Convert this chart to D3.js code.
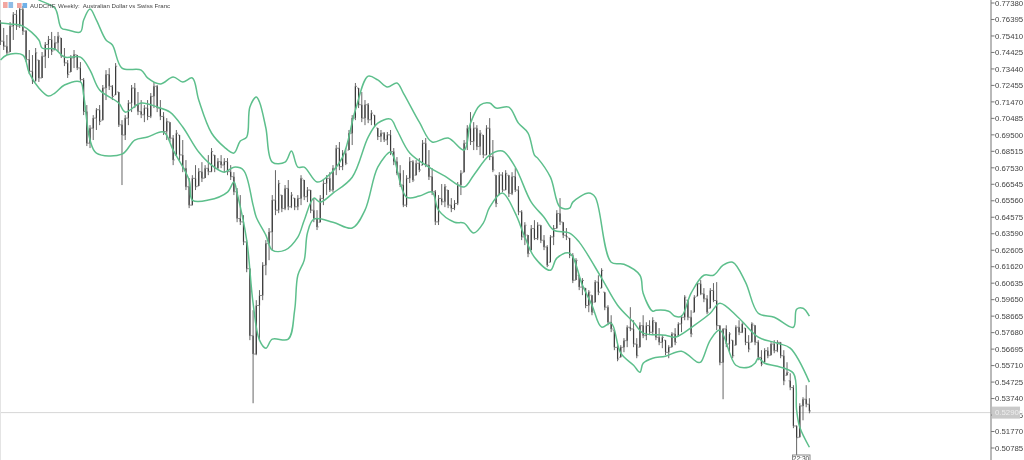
<!DOCTYPE html>
<html><head><meta charset="utf-8">
<script src="https://cdn.jsdelivr.net/npm/d3@7/dist/d3.min.js"></script>
<style>html,body{margin:0;padding:0;background:#fff;overflow:hidden}svg{display:block;filter:blur(0.4px)}text{font-family:"Liberation Sans",sans-serif}</style>
</head><body><div id="c"></div>
<script>
const symbolTitle = "AUDCHF, Weekly:  Australian Dollar vs Swiss Franc";
const priceTicks = ["0.77380","0.76395","0.75410","0.74425","0.73440","0.72455","0.71470","0.70485","0.69500","0.68515","0.67530","0.66545","0.65560","0.64575","0.63590","0.62605","0.61620","0.60635","0.59650","0.58665","0.57680","0.56695","0.55710","0.54725","0.53740","0.52755","0.51770","0.50785"];
const currentPrice = 0.52900, currentLabel = "0.52900", timeLabel = "22:30";
const barHigh = [.7636,.7589,.7547,.7624,.7684,.7696,.7726,.7720,.7577,.7457,
.7427,.7469,.7397,.7445,.7505,.7541,.7565,.7541,.7565,.7529,
.7469,.7397,.7427,.7457,.7427,.7385,.7290,.7128,.7008,.7068,
.7110,.7128,.7248,.7337,.7349,.7248,.7379,.7206,.7038,.7068,
.7158,.7248,.7260,.7206,.7158,.7128,.7158,.7200,.7266,.7248,
.7158,.7086,.7050,.7026,.6949,.6979,.6949,.6919,.6799,.6692,
.6709,.6769,.6751,.6787,.6769,.6829,.6871,.6829,.6811,.6829,
.6811,.6811,.6769,.6727,.6632,.6590,.6470,.6321,.6153,.5902,
.5962,.6022,.6189,.6321,.6393,.6590,.6739,.6680,.6590,.6650,
.6680,.6608,.6572,.6590,.6709,.6680,.6638,.6620,.6572,.6500,
.6590,.6680,.6709,.6727,.6769,.6889,.6907,.6859,.6871,.6979,
.7068,.7260,.7230,.7206,.7158,.7140,.7098,.7068,.6991,.6979,
.6967,.6967,.6979,.6871,.6817,.6769,.6739,.6709,.6817,.6799,
.6799,.6811,.6919,.6931,.6859,.6751,.6620,.6590,.6656,.6656,
.6620,.6572,.6560,.6668,.6739,.6919,.7008,.7086,.7026,.7008,
.6979,.6949,.7008,.7050,.6919,.6709,.6727,.6727,.6739,.6709,
.6727,.6751,.6644,.6500,.6428,.6351,.6411,.6440,.6428,.6411,
.6351,.6291,.6351,.6411,.6500,.6572,.6428,.6393,.6333,.6243,
.6213,.6111,.6094,.6034,.6022,.5992,.6082,.6111,.6153,.6010,
.5932,.5872,.5783,.5693,.5693,.5735,.5812,.5920,.5842,.5735,
.5830,.5872,.5830,.5842,.5860,.5830,.5795,.5753,.5723,.5693,
.5771,.5795,.5830,.5872,.5992,.5962,.5902,.5992,.6070,.6082,
.6034,.5992,.6034,.6064,.6070,.5812,.5795,.5812,.5771,.5723,
.5812,.5842,.5830,.5795,.5753,.5830,.5812,.5723,.5663,.5675,
.5681,.5711,.5723,.5723,.5711,.5663,.5591,.5525,.5454,.5214,
.5346,.5382,.5454,.5376];
const barLow = [.7487,.7457,.7427,.7445,.7517,.7577,.7589,.7547,.7385,.7313,
.7254,.7278,.7266,.7290,.7349,.7409,.7427,.7457,.7445,.7409,
.7361,.7290,.7325,.7349,.7337,.7266,.7068,.6883,.6871,.6919,
.6979,.7008,.7038,.7158,.7218,.7158,.7188,.6997,.6650,.6919,
.7008,.7086,.7110,.7068,.7050,.7026,.7038,.7050,.7110,.7086,
.7038,.6949,.6919,.6907,.6769,.6829,.6799,.6727,.6620,.6512,
.6530,.6620,.6644,.6668,.6692,.6709,.6727,.6727,.6739,.6751,
.6727,.6709,.6680,.6590,.6428,.6411,.6291,.6129,.5723,.5346,
.5633,.5723,.5962,.6111,.6201,.6261,.6470,.6482,.6488,.6500,
.6500,.6512,.6500,.6500,.6530,.6560,.6548,.6482,.6428,.6381,
.6428,.6530,.6590,.6608,.6608,.6709,.6739,.6739,.6769,.6859,
.6889,.7038,.7110,.7026,.7008,.7020,.7008,.6997,.6919,.6907,
.6907,.6889,.6829,.6769,.6709,.6638,.6518,.6518,.6662,.6668,
.6709,.6727,.6769,.6757,.6680,.6590,.6411,.6411,.6530,.6518,
.6512,.6488,.6500,.6530,.6590,.6727,.6859,.6889,.6859,.6859,
.6829,.6811,.6829,.6799,.6727,.6518,.6590,.6608,.6620,.6578,
.6590,.6608,.6470,.6321,.6291,.6219,.6261,.6321,.6321,.6303,
.6261,.6159,.6189,.6291,.6393,.6411,.6333,.6321,.6213,.6064,
.6082,.6022,.5992,.5914,.5890,.5872,.5950,.5992,.6034,.5902,
.5812,.5771,.5663,.5597,.5621,.5651,.5681,.5777,.5681,.5615,
.5681,.5735,.5723,.5753,.5753,.5723,.5693,.5675,.5633,.5615,
.5681,.5693,.5747,.5771,.5842,.5842,.5741,.5890,.5986,.5992,
.5950,.5878,.5914,.5950,.5783,.5573,.5370,.5681,.5651,.5615,
.5693,.5753,.5765,.5693,.5651,.5711,.5693,.5603,.5567,.5591,
.5615,.5633,.5645,.5651,.5615,.5454,.5513,.5424,.5197,.5035,
.5143,.5244,.5322,.5286];
const barClose = [.7510,.7480,.7440,.7600,.7670,.7600,.7700,.7570,.7400,.7330,
.7270,.7440,.7290,.7420,.7490,.7520,.7450,.7500,.7540,.7420,
.7380,.7310,.7410,.7430,.7350,.7280,.7090,.6900,.6990,.7050,
.7100,.7030,.7230,.7310,.7240,.7180,.7360,.7010,.6949,.7050,
.7140,.7230,.7130,.7090,.7070,.7110,.7060,.7180,.7240,.7110,
.7060,.6970,.7030,.6930,.6800,.6960,.6830,.6750,.6640,.6530,
.6690,.6640,.6730,.6690,.6750,.6730,.6850,.6750,.6790,.6770,
.6790,.6730,.6700,.6610,.6450,.6430,.6310,.6150,.5750,.5640,
.5930,.5990,.6170,.6300,.6370,.6560,.6500,.6660,.6510,.6630,
.6520,.6590,.6520,.6570,.6690,.6580,.6620,.6500,.6450,.6400,
.6570,.6660,.6690,.6620,.6750,.6870,.6760,.6840,.6780,.6960,
.7050,.7240,.7130,.7050,.7130,.7040,.7080,.7010,.6940,.6960,
.6920,.6950,.6850,.6790,.6720,.6650,.6530,.6690,.6790,.6680,
.6780,.6740,.6900,.6770,.6700,.6610,.6430,.6570,.6550,.6640,
.6530,.6510,.6540,.6650,.6720,.6900,.6990,.6910,.6990,.6880,
.6960,.6830,.6990,.6820,.6740,.6540,.6710,.6620,.6720,.6600,
.6700,.6620,.6490,.6340,.6410,.6240,.6390,.6330,.6410,.6320,
.6280,.6170,.6340,.6390,.6480,.6430,.6350,.6340,.6230,.6080,
.6200,.6040,.6080,.5930,.6010,.5890,.6070,.6010,.6140,.5920,
.5830,.5790,.5680,.5610,.5680,.5720,.5800,.5790,.5700,.5630,
.5810,.5750,.5810,.5770,.5840,.5740,.5710,.5740,.5650,.5680,
.5760,.5710,.5820,.5860,.5980,.5860,.5760,.5980,.6060,.6000,
.5970,.5890,.6020,.5960,.5810,.5590,.5790,.5700,.5760,.5630,
.5800,.5770,.5820,.5710,.5670,.5820,.5710,.5620,.5580,.5660,
.5630,.5700,.5660,.5710,.5630,.5480,.5530,.5440,.5210,.5140,
.5330,.5370,.5340,.5300];
const barOpen = [.7620,.7510,.7480,.7445,.7600,.7670,.7600,.7700,.7570,.7400,
.7330,.7270,.7397,.7290,.7420,.7490,.7520,.7457,.7500,.7529,
.7420,.7380,.7325,.7410,.7427,.7350,.7280,.7090,.6900,.6990,
.7050,.7100,.7038,.7230,.7310,.7240,.7188,.7206,.7010,.6949,
.7050,.7140,.7230,.7130,.7090,.7070,.7110,.7060,.7180,.7240,
.7110,.7060,.6970,.7026,.6930,.6829,.6949,.6830,.6750,.6640,
.6530,.6690,.6644,.6730,.6692,.6750,.6730,.6829,.6750,.6790,
.6770,.6790,.6730,.6700,.6610,.6450,.6430,.6310,.6150,.5750,
.5640,.5930,.5990,.6170,.6300,.6370,.6560,.6500,.6590,.6510,
.6630,.6520,.6572,.6520,.6570,.6680,.6580,.6620,.6500,.6450,
.6428,.6570,.6660,.6690,.6620,.6750,.6870,.6760,.6840,.6859,
.6960,.7050,.7230,.7130,.7050,.7130,.7040,.7068,.6991,.6940,
.6960,.6920,.6950,.6850,.6790,.6720,.6650,.6530,.6690,.6790,
.6709,.6780,.6769,.6900,.6770,.6700,.6610,.6430,.6570,.6550,
.6620,.6530,.6510,.6540,.6650,.6727,.6900,.6990,.6910,.6990,
.6880,.6949,.6830,.6990,.6820,.6709,.6590,.6710,.6620,.6709,
.6600,.6700,.6620,.6490,.6340,.6351,.6261,.6390,.6330,.6410,
.6320,.6280,.6189,.6340,.6390,.6480,.6428,.6350,.6333,.6230,
.6082,.6111,.6040,.6034,.5930,.5992,.5950,.6070,.6034,.6010,
.5920,.5830,.5783,.5680,.5621,.5680,.5720,.5800,.5790,.5700,
.5681,.5810,.5750,.5810,.5770,.5830,.5740,.5710,.5723,.5650,
.5681,.5760,.5747,.5820,.5860,.5962,.5860,.5890,.5986,.6060,
.6000,.5970,.5914,.6020,.5960,.5810,.5590,.5790,.5700,.5723,
.5693,.5800,.5770,.5795,.5710,.5711,.5812,.5710,.5620,.5591,
.5660,.5633,.5700,.5660,.5710,.5630,.5513,.5480,.5440,.5210,
.5143,.5330,.5370,.5340];
const upperIdx = [11,12,17,19,21,25,26,28,30,33,35,38,44,46,50,54,57,60,62,66,70,73,75,77,78,80,81,83,85,89,91,93,95,99,102,107,111,115,118,121,124,126,131,135,140,145,147,150,153,155,159,162,165,167,168,172,175,178,179,184,186,191,195,200,201,204,205,209,211,213,216,220,223,226,229,233,237,242,248,249,251,253];
const upperBand = [.7774,.7756,.7708,.7589,.7577,.7565,.7636,.7702,.7636,.7517,.7487,.7349,.7337,.7290,.7254,.7296,.7266,.7290,.7158,.6961,.6877,.6841,.6913,.6937,.7116,.7176,.7146,.6991,.6787,.6787,.6853,.6757,.6757,.6668,.6697,.6817,.7098,.7301,.7278,.7236,.7260,.7200,.7026,.6907,.6931,.6859,.7020,.7128,.7140,.7110,.7116,.7020,.6961,.6829,.6811,.6697,.6518,.6512,.6548,.6602,.6578,.6189,.6177,.6111,.6004,.5896,.5902,.5896,.5866,.5866,.6004,.6111,.6111,.6171,.6189,.6070,.5884,.5860,.5800,.5908,.5914,.5866];
const middleIdx = [0,3,7,12,13,17,20,25,28,31,37,39,44,49,53,57,62,66,70,73,76,79,80,83,85,89,93,95,98,100,104,110,115,118,122,124,128,134,139,145,148,153,157,161,166,170,173,178,181,188,193,198,201,208,211,217,222,225,231,237,243,247,253];
const middleBand = [.7618,.7612,.7600,.7517,.7469,.7463,.7415,.7415,.7337,.7218,.7140,.7086,.7140,.7116,.7086,.6997,.6847,.6769,.6727,.6757,.6739,.6530,.6458,.6351,.6261,.6261,.6339,.6440,.6572,.6548,.6602,.6697,.6937,.7020,.7044,.6979,.6841,.6757,.6703,.6638,.6709,.6829,.6853,.6757,.6548,.6458,.6381,.6363,.6309,.6094,.5932,.5830,.5765,.5753,.5741,.5812,.5884,.5944,.5854,.5741,.5705,.5675,.5472];
const lowerIdx = [0,2,7,9,12,15,17,20,25,26,28,30,38,42,46,51,54,59,60,65,71,73,74,77,79,81,83,85,90,92,93,95,96,98,104,110,114,118,122,123,127,131,135,137,142,145,148,151,153,157,161,164,167,172,174,178,182,185,188,191,194,198,200,201,204,208,213,218,219,222,225,230,234,236,237,239,243,248,249,250,253];
const lowerBand = [.7397,.7427,.7427,.7319,.7230,.7182,.7200,.7248,.7266,.7188,.6919,.6841,.6835,.6919,.6937,.6967,.6859,.6680,.6560,.6560,.6608,.6668,.6602,.6321,.5944,.5723,.5675,.5729,.5729,.5902,.6111,.6201,.6363,.6446,.6428,.6393,.6500,.6757,.6847,.6817,.6578,.6584,.6608,.6500,.6428,.6422,.6363,.6422,.6518,.6602,.6482,.6339,.6219,.6141,.6213,.6243,.6052,.5932,.5801,.5825,.5645,.5573,.5531,.5585,.5615,.5627,.5657,.5591,.5591,.5723,.5783,.5573,.5561,.5585,.5615,.5585,.5567,.5525,.5304,.5202,.5083];

const W = 1024, H = 460, axisX = 991;
const svg = d3.select("#c").append("svg").attr("width", W).attr("height", H);
const x = d3.scaleLinear().domain([0, 253]).range([0.5, 809.4]);
const y = d3.scaleLinear().domain([+priceTicks[priceTicks.length-1], +priceTicks[0]]).range([448, 3]);

svg.append("line").attr("x1",0).attr("x2",axisX).attr("y1",y(currentPrice)).attr("y2",y(currentPrice)).attr("stroke","#d6d6d6").attr("stroke-width",1);
svg.append("line").attr("x1",0.5).attr("x2",0.5).attr("y1",0).attr("y2",H).attr("stroke","#e4e4e4");

// OHLC bars
const bars = svg.append("g").attr("fill","none");
barHigh.forEach((h,i)=>{
  const cx = x(i);
  bars.append("line").attr("x1",cx).attr("x2",cx).attr("y1",y(h)).attr("y2",y(barLow[i])).attr("stroke","#666").attr("stroke-width",1);
  const top = y(Math.max(barOpen[i],barClose[i])), bot = y(Math.min(barOpen[i],barClose[i]));
  bars.append("line").attr("x1",cx).attr("x2",cx).attr("y1",top).attr("y2",bot).attr("stroke","#3c3c3c").attr("stroke-width",1.2);
  bars.append("line").attr("x1",cx-1.6).attr("x2",cx).attr("y1",y(barOpen[i])).attr("y2",y(barOpen[i])).attr("stroke","#888");
  bars.append("line").attr("x1",cx).attr("x2",cx+1.6).attr("y1",y(barClose[i])).attr("y2",y(barClose[i])).attr("stroke","#888");
});

// Bollinger bands
const bandLine = d3.line().x(d=>x(d[0])).y(d=>y(d[1])).curve(d3.curveCatmullRom.alpha(0.5));
[[upperIdx,upperBand],[middleIdx,middleBand],[lowerIdx,lowerBand]].forEach(([ix,v])=>{
  svg.append("path").attr("d",bandLine(ix.map((k,j)=>[k,v[j]]))).attr("fill","none").attr("stroke","#5dbf8c").attr("stroke-width",1.5);
});

// right price axis
svg.append("line").attr("x1",axisX).attr("x2",axisX).attr("y1",0).attr("y2",H).attr("stroke","#a2a2a2").attr("stroke-width",1.5);
const axis = svg.append("g");
priceTicks.forEach(t=>{
  const py = y(+t);
  axis.append("line").attr("x1",axisX).attr("x2",axisX+3.5).attr("y1",py).attr("y2",py).attr("stroke","#777");
  axis.append("text").attr("x",995).attr("y",py+2.7).attr("font-size",7.8).attr("fill","#444").text(t);
});
// current price tag
const cy = y(currentPrice);
svg.append("rect").attr("x",992).attr("y",cy-6).attr("width",28).attr("height",12).attr("fill","#c9c9c9");
svg.append("text").attr("x",995).attr("y",cy+2.7).attr("font-size",7.8).attr("fill","#eeeeee").text(currentLabel);

// time tag
svg.append("rect").attr("x",792.5).attr("y",455).attr("width",17.5).attr("height",8).attr("fill","#fff").attr("stroke","#888");
svg.append("text").attr("x",801).attr("y",460.5).attr("text-anchor","middle").attr("font-size",6.6).attr("fill","#444").text(timeLabel);

// header icons + title
[[3,"#f2a6a0"],[8.5,"#8fbce6"],[17,"#f2a6a0"],[22.5,"#6fb0e8"]].forEach(([px,c],i)=>{
  svg.append("rect").attr("x",px).attr("y",i<2?2:3).attr("width",4.6).attr("height",i<2?6:5).attr("fill",c);
});
svg.append("text").attr("x",30).attr("y",7.6).attr("font-size",6.1).attr("fill","#444").attr("xml:space","preserve").text(symbolTitle);
</script></body></html>
